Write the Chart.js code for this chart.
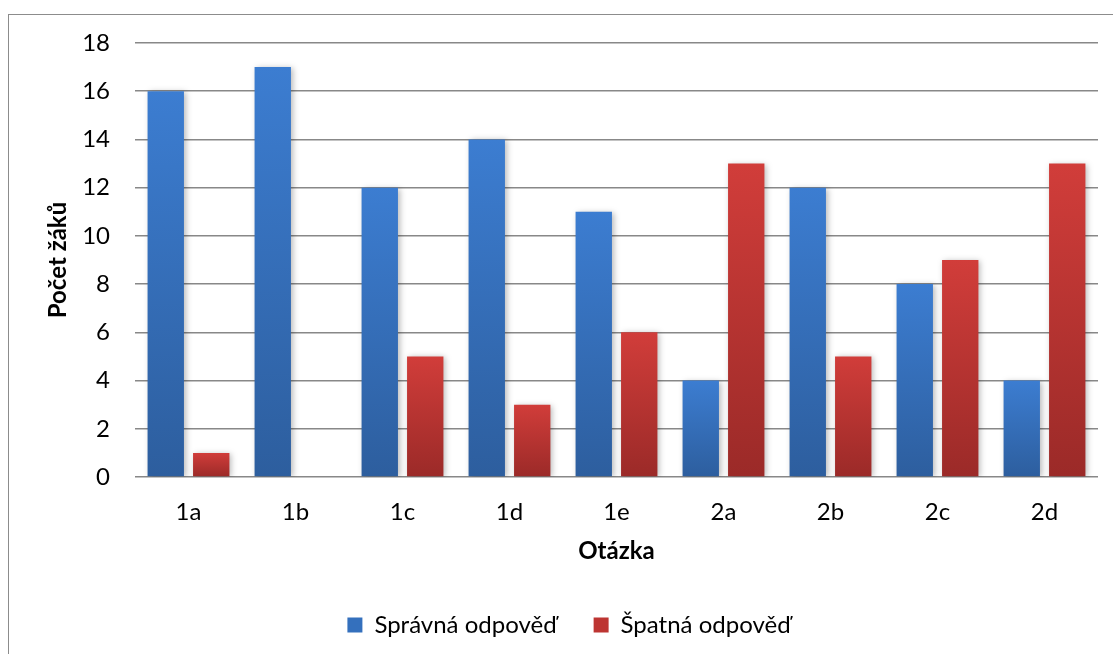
<!DOCTYPE html>
<html>
<head>
<meta charset="utf-8">
<script src="https://cdn.jsdelivr.net/npm/chart.js@4/dist/chart.umd.min.js"></script>
<style>
  html, body { margin: 0; padding: 0; background: #fff; }
  #wrap { position: relative; width: 1113px; height: 654px; overflow: hidden; }
  #frame { position: absolute; left: 8px; top: 14px; width: 1200px; height: 800px; border: 1.5px solid #8c8c8c; box-sizing: border-box; }
  #c { position: absolute; left: 0; top: 0; }
</style>
</head>
<body>
<div id="wrap">
  <div id="frame"></div>
  <canvas id="c" width="1113" height="654"></canvas>
</div>
<script>
const categories = ["1a", "1b", "1c", "1d", "1e", "2a", "2b", "2c", "2d"];
const correctValues = [16, 17, 12, 14, 11, 4, 12, 8, 4];
const wrongValues = [1, 0, 5, 3, 6, 13, 5, 9, 13];
const seriesNames = ["Správná odpověď", "Špatná odpověď"];
const yTicks = [0, 2, 4, 6, 8, 10, 12, 14, 16, 18];

const FONT = "Lato";

function barGradient(top, bottom) {
  return function (ctx) {
    const chart = ctx.chart;
    const area = chart.chartArea;
    if (!area || ctx.type !== 'data') return top;
    const y = chart.scales.y;
    const v = ctx.raw;
    const yTop = y.getPixelForValue(v);
    const yBot = y.getPixelForValue(0);
    if (!isFinite(yTop) || !isFinite(yBot) || yTop === yBot) return top;
    const g = chart.ctx.createLinearGradient(0, yTop, 0, yBot);
    g.addColorStop(0, top);
    g.addColorStop(1, bottom);
    return g;
  };
}

const shadowPlugin = {
  id: 'barShadow',
  beforeDatasetsDraw(chart) {
    const c = chart.ctx;
    c.save();
    c.shadowColor = 'rgba(0,0,0,0.28)';
    c.shadowBlur = 6;
    c.shadowOffsetX = 2;
    c.shadowOffsetY = 1;
  },
  afterDatasetsDraw(chart) {
    chart.ctx.restore();
  }
};

// fix legend box height so the legend sits where the reference has it
const legendHeightPlugin = {
  id: 'legendHeight',
  beforeLayout(chart) {
    const lg = chart.legend;
    if (lg && !lg._patched) {
      const orig = lg.fit;
      lg.fit = function () { orig.call(this); this.height = 78; };
      lg._patched = true;
    }
  }
};

new Chart(document.getElementById('c'), {
  type: 'bar',
  data: {
    labels: categories,
    datasets: [
      {
        label: seriesNames[0],
        data: correctValues,
        backgroundColor: barGradient('#3c7dd1', '#2d5e9e'),
        borderWidth: 0
      },
      {
        label: seriesNames[1],
        data: wrongValues,
        backgroundColor: barGradient('#d13d3a', '#9b2a28'),
        borderWidth: 0
      }
    ]
  },
  options: {
    responsive: false,
    animation: false,
    devicePixelRatio: 1,
    categoryPercentage: 0.85,
    barPercentage: 0.8,
    layout: { padding: { left: 40, right: 15, top: 43, bottom: 0 } },
    plugins: {
      legend: {
        position: 'bottom',
        labels: {
          font: { family: FONT, size: 24 },
          color: '#000',
          boxWidth: 15,
          boxHeight: 15,
          padding: 37,
          generateLabels(chart) {
            const cols = ['#3470bd', '#bd3532'];
            return chart.data.datasets.map((d, i) => ({
              text: d.label,
              fillStyle: cols[i],
              strokeStyle: cols[i],
              lineWidth: 0,
              hidden: false,
              datasetIndex: i,
              fontColor: '#000'
            }));
          }
        }
      },
      tooltip: { enabled: false }
    },
    scales: {
      x: {
        grid: { display: false, drawTicks: false },
        border: { display: false },
        ticks: { font: { family: FONT, size: 24 }, color: '#000', padding: 21 },
        title: { display: true, text: 'Otázka', font: { family: FONT, size: 24, weight: 'bold' }, color: '#000', padding: { top: 4, bottom: 10 } },
        afterFit(scale) { scale.height = 99; }
      },
      y: {
        min: 0,
        max: 18,
        afterBuildTicks(scale) { scale.ticks = yTicks.map(v => ({ value: v })); },
        grid: { color: '#888888', lineWidth: 1.5, drawTicks: false },
        border: { display: false },
        ticks: { font: { family: FONT, size: 24 }, color: '#000', padding: 25 },
        title: { display: true, text: 'Počet žáků', font: { family: FONT, size: 24, weight: 'bold' }, color: '#000', padding: { top: 4, bottom: 4 } },
        afterFit(scale) { scale.width = 95; }
      }
    }
  },
  plugins: [shadowPlugin, legendHeightPlugin]
});
</script>
</body>
</html>
